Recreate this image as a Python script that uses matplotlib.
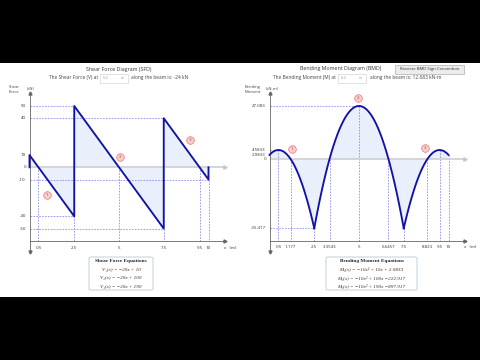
import numpy as np
import matplotlib.pyplot as plt
from matplotlib.patches import Rectangle, FancyBboxPatch

plt.rcParams['font.family'] = ['Open Sans', 'DejaVu Sans']

# Shear force diagram: polyline through the jumps (kN)
sfd_x = [0, 0, 2.5, 2.5, 7.5, 7.5, 10, 10]
sfd_v = [0, 10, -40, 50, -50, 40, -10, 0]
sfd_yticks = [50, 40, 10, 0, -10, -40, -50]
sfd_xticks = [0.5, 2.5, 5, 7.5, 9.5, 10]
sfd_xtick_labels = ['0.5', '2.5', '5', '7.5', '9.5', '10']

# Bending moment segments M(x) = a x^2 + b x + c (from the equation box)
bmd_start = [0, 2.5, 7.5]
bmd_end = [2.5, 7.5, 10]
bmd_a = [-10, -10, -10]
bmd_b = [10, 100, 190]
bmd_c = [2.0833, -222.917, -897.917]
bmd_yticks = [27.083, 4.5833, 2.0833, 0, -35.417]
bmd_ytick_labels = ['27.083', '4.5833', '2.0833', '0', '-35.417']
bmd_xticks = [0.5, 1.177, 2.5, 3.3543, 5, 6.6457, 7.5, 8.823, 9.5, 10]
bmd_xtick_labels = ['0.5', '1.177', '2.5', '3.3543', '5', '6.6457', '7.5', '8.823', '9.5', '10']

sfd_eqs = ['V₁(x) = −20x + 10', 'V₂(x) = −20x + 100', 'V₃(x) = −20x + 190']
bmd_eqs = ['M₁(x) = −10x² + 10x + 2.0833', 'M₂(x) = −10x² + 100x −222.917',
           'M₃(x) = −10x² + 190x −897.917']

W, H = 480, 360
fig = plt.figure(figsize=(4.8, 3.6), dpi=100, facecolor='black')

# white page between the letterbox bars
bg = fig.add_axes([0, (H - 297) / H, 1, 234 / H])
bg.set_facecolor('white')
bg.set_xticks([])
bg.set_yticks([])
for s in bg.spines.values():
    s.set_visible(False)

LINE = '#1212a6'
FILL = '#e9f0fb'
DASH = '#8585e6'
AXC = '#666666'
SERIF = ['Liberation Serif', 'DejaVu Serif']


def fx(x):
    return x / W


def fy(y):
    return 1 - y / H


def ftext(x, y, s, **kw):
    fig.text(fx(x), fy(y), s, **kw)


def make_ax(left, right, top, bot, x0, xs, y0, ys):
    ax = fig.add_axes([fx(left), fy(bot), (right - left) / W, (bot - top) / H])
    ax.set_xlim((left - x0) / xs, (right - x0) / xs)
    ax.set_ylim((y0 - bot) / ys, (y0 - top) / ys)
    ax.axis('off')
    return ax


def frame(ax, ytop, ybot, ybase, xend, yticks, ylabels, xticks, xlabels):
    ax.plot([0, xend], [0, 0], color='#d2d2d2', lw=1.3, solid_capstyle='butt')
    ax.plot(xend, 0, marker='>', ms=2.5, color='#c8c8c8', clip_on=False)
    ax.plot([0, 0], [ybot, ytop], color=AXC, lw=0.6)
    ax.plot(0, ytop, marker='^', ms=2.2, color=AXC, clip_on=False)
    ax.plot(0, ybot, marker='v', ms=2.2, color=AXC, clip_on=False)
    ax.plot([0, xend], [ybase, ybase], color=AXC, lw=0.6)
    ax.plot(xend, ybase, marker='>', ms=2.2, color=AXC, clip_on=False)
    for v, lab in zip(yticks, ylabels):
        ax.text(-0.2, v, lab, fontsize=3.2, ha='right', va='center', color='#333333')
    for v, lab in zip(xticks, xlabels):
        ax.text(v, ybase - (ytop - ybot) * 0.03, lab, fontsize=3.2, ha='center',
                va='top', color='#333333')
    ax.text(xend - 0.05, ybase - (ytop - ybot) * 0.03, 'x   (m)', fontsize=3.2,
            ha='left', va='top', color='#333333')


def marker(ax, x, y, n):
    ax.plot(x, y, marker='o', ms=5.5, mfc='#f8cdcd', mec='#e47a7a', mew=0.5)
    ax.text(x, y, n, fontsize=3.2, ha='center', va='center', color='#d03a3a')


def dash(ax, xs, ys):
    ax.plot(xs, ys, color=DASH, lw=0.55, ls=(0, (2.2, 1.6)))


# ---------------- Shear force diagram ----------------
ax1 = make_ax(0, 240, 85, 258, 29.5, 17.9, 167.3, 1.226)
base1 = -60
ax1.fill_between(sfd_x, sfd_v, 0, color=FILL, lw=0)
for v, xe in [(50, 2.5), (40, 7.5), (-10, 10), (-40, 2.5), (-50, 7.5)]:
    dash(ax1, [0, xe], [v, v])
for xv, yv in [(0.5, 0), (2.5, -40), (5, 0), (7.5, -50), (9.5, 0), (10, -10)]:
    dash(ax1, [xv, xv], [yv, base1])
frame(ax1, 60.6, -69, base1, 10.9, sfd_yticks, [str(v) for v in sfd_yticks],
      sfd_xticks, sfd_xtick_labels)
ax1.plot(sfd_x, sfd_v, color=LINE, lw=1.35)
marker(ax1, 0.98, -22.6, '1')
marker(ax1, 5.05, 8.4, '2')
marker(ax1, 8.97, 22, '3')

ftext(14, 89.5, 'Shear\nForce', fontsize=3, ha='center', va='center', color='#444444',
      linespacing=1.3)
ftext(31, 88.5, '(kN)', fontsize=3, ha='center', va='center', color='#444444')

# ---------------- Bending moment diagram ----------------
ax2 = make_ax(240, 480, 85, 258, 269.5, 17.9, 159, 1.957)
base2 = -41.7
for s, e, a, b, c in zip(bmd_start, bmd_end, bmd_a, bmd_b, bmd_c):
    xx = np.linspace(s, e, 120)
    mm = np.polyval([a, b, c], xx)
    ax2.fill_between(xx, mm, 0, color=FILL, lw=0)
dash(ax2, [0, 5], [27.083, 27.083])
dash(ax2, [0, 0.5], [4.5833, 4.5833])
dash(ax2, [0, 2.5], [-35.417, -35.417])
for xv, yv in [(0.5, 4.5833), (1.177, 0), (2.5, -35.417), (3.3543, 0), (5, 27.083),
               (6.6457, 0), (7.5, -35.417), (8.823, 0), (9.5, 4.5833), (10, 2.0833)]:
    dash(ax2, [xv, xv], [yv, base2])
frame(ax2, 33.7, -47.5, base2, 10.9, bmd_yticks, bmd_ytick_labels,
      bmd_xticks, bmd_xtick_labels)
for s, e, a, b, c in zip(bmd_start, bmd_end, bmd_a, bmd_b, bmd_c):
    xx = np.linspace(s, e, 120)
    ax2.plot(xx, np.polyval([a, b, c], xx), color=LINE, lw=1.35)
marker(ax2, 1.26, 5.1, '1')
marker(ax2, 4.94, 31.2, '2')
marker(ax2, 8.69, 5.6, '3')

ftext(253, 89.5, 'Bending\nMoment', fontsize=3, ha='center', va='center', color='#444444',
      linespacing=1.3)
ftext(272, 88.5, '(kN-m)', fontsize=3, ha='center', va='center', color='#444444')

# ---------------- headers ----------------
ftext(119, 69.5, 'Shear Force Diagram (SFD)', fontsize=3.8, ha='center', va='center',
      color='#333333')
ftext(98, 78, 'The Shear Force (V) at', fontsize=3.5, ha='right', va='center', color='#444444')
ftext(131, 78, 'along the beam is: -24 kN', fontsize=3.5, ha='left', va='center', color='#444444')
ftext(341, 68.5, 'Bending Moment Diagram (BMD)', fontsize=3.8, ha='center', va='center',
      color='#333333')
ftext(336, 78, 'The Bending Moment (M) at', fontsize=3.5, ha='right', va='center', color='#444444')
ftext(370, 78, 'along the beam is: 12.683 kN-m', fontsize=3.5, ha='left', va='center',
      color='#444444')

for left in (100, 338):
    fig.patches.append(Rectangle((fx(left), fy(82.5)), 28 / W, 9 / H, transform=fig.transFigure,
                                 facecolor='white', edgecolor='#d4d4d4', lw=0.5))
    ftext(left + 3, 78, '6.2', fontsize=3, ha='left', va='center', color='#9a9a9a')
    ftext(left + 24, 78, 'm', fontsize=2.6, ha='right', va='center', color='#9a9a9a')

fig.patches.append(Rectangle((fx(395), fy(74)), 69 / W, 9.5 / H, transform=fig.transFigure,
                             facecolor='#ececec', edgecolor='#b0b0b0', lw=0.5))
ftext(429.5, 69.3, 'Reverse BMD Sign Convention', fontsize=3.1, ha='center', va='center',
      color='#333333')

# ---------------- equation boxes ----------------
for left, right, title, eqs in [(89, 153, 'Shear Force Equations', sfd_eqs),
                                 (326, 417, 'Bending Moment Equations', bmd_eqs)]:
    fig.patches.append(FancyBboxPatch((fx(left), fy(290)), (right - left) / W, 33 / H,
                                      boxstyle='round,pad=0,rounding_size=0.004',
                                      transform=fig.transFigure, facecolor='white',
                                      edgecolor='#b9cad6', lw=0.6))
    cx = (left + right) / 2
    ftext(cx, 261, title, fontsize=3.8, ha='center', va='center', weight='bold',
          family=SERIF, color='#222222')
    for i, eq in enumerate(eqs):
        ftext(cx, 269.8 + i * 8.4, eq, fontsize=3.7, ha='center', va='center',
              style='italic', family=SERIF, color='#333333')

fig.savefig('out.png', dpi=100, facecolor='black')
